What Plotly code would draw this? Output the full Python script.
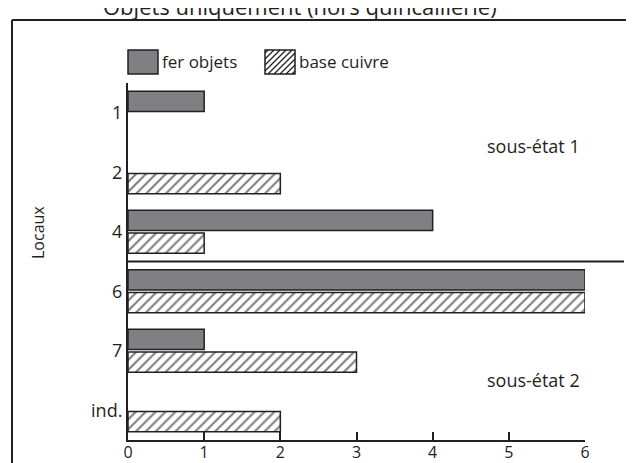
import plotly.graph_objects as go

categories = ["1", "2", "4", "6", "7", "ind."]
fer_objets = [1, None, 4, 6, 1, None]
base_cuivre = [None, 2, 1, 6, 3, 2]
x_ticks = [0, 1, 2, 3, 4, 5, 6]

# The page body adds an 8px offset; the figure is sized so that the
# plot area lands where it sits in the reference (screen coordinates).
OFF = 8
W, H = 634 - OFF, 463 - OFF
L, T = 128 - OFF, 83 - OFF
PW, PH = 457, 357
R, B = W - L - PW, H - T - PH

def px(x):  # screen x -> paper
    return (x - 128) / PW

def py(y):  # screen y -> paper
    return (440 - y) / PH

DARK = "#231f20"
GRAY = "#808083"
FONT = "Open Sans, Noto Sans, sans-serif"

fig = go.Figure()
fig.add_trace(go.Bar(
    y=categories, x=fer_objets, orientation="h", name="fer objets",
    marker=dict(color=GRAY, line=dict(color=DARK, width=1.5)),
    showlegend=False,
))
fig.add_trace(go.Bar(
    y=categories, x=base_cuivre, orientation="h", name="base cuivre",
    marker=dict(color="white", line=dict(color=DARK, width=1.5),
                pattern=dict(shape="/", fgcolor="#000000", bgcolor="white", size=7, solidity=0.3)),
    showlegend=False,
))

shapes = []
FRAME_TOP = 20
shapes.append(dict(type="line", xref="paper", yref="paper", x0=px(12), x1=px(12), y0=py(FRAME_TOP), y1=py(480),
                   line=dict(color=DARK, width=2)))
shapes.append(dict(type="line", xref="paper", yref="paper", x0=px(12), x1=px(633), y0=py(FRAME_TOP), y1=py(FRAME_TOP),
                   line=dict(color=DARK, width=2)))
shapes.append(dict(type="line", xref="paper", yref="paper", x0=px(632), x1=px(632), y0=py(FRAME_TOP), y1=py(480),
                   line=dict(color="#e6e6e6", width=1)))
# separator between sous-état 1 and sous-état 2
shapes.append(dict(type="line", xref="paper", yref="y", x0=0, x1=px(624), y0=2.5, y1=2.5,
                   line=dict(color=DARK, width=2)))

def box(x0, y0, x1, y1, fill):
    return dict(type="rect", xref="paper", yref="paper", x0=px(x0), x1=px(x1), y0=py(y1), y1=py(y0),
                fillcolor=fill, line=dict(color=DARK, width=1.5))

shapes.append(box(128, 50, 158, 74, GRAY))
shapes.append(box(265, 50, 295, 74, "white"))
bx0, by0, bx1, by1 = 265, 50, 295, 74
step = 6
c = bx0 + by0 + 3
while c < bx1 + by1:
    pts = []
    for x in (bx0, bx1):
        y = c - x
        if by0 <= y <= by1:
            pts.append((x, y))
    for y in (by0, by1):
        x = c - y
        if bx0 <= x <= bx1:
            pts.append((x, y))
    pts = sorted(set(pts))
    if len(pts) >= 2:
        (xa, ya), (xb, yb) = pts[0], pts[-1]
        shapes.append(dict(type="line", xref="paper", yref="paper", x0=px(xa), y0=py(ya), x1=px(xb), y1=py(yb),
                           line=dict(color=DARK, width=1.2)))
    c += step

annotations = [
    dict(text="Objets uniquement (hors quincaillerie)", xref="paper", yref="paper", x=px(300), y=py(6),
         xanchor="center", yanchor="middle", showarrow=False, font=dict(size=22, color=DARK, family=FONT)),
    dict(text="fer objets", xref="paper", yref="paper", x=px(160), y=py(61), xanchor="left", yanchor="middle",
         showarrow=False, font=dict(size=17, color=DARK, family=FONT)),
    dict(text="base cuivre", xref="paper", yref="paper", x=px(297), y=py(61), xanchor="left", yanchor="middle",
         showarrow=False, font=dict(size=17, color=DARK, family=FONT)),
    dict(text="sous-état 1", xref="paper", yref="paper", x=px(533), y=py(146), xanchor="center", yanchor="middle",
         showarrow=False, font=dict(size=18, color=DARK, family=FONT)),
    dict(text="sous-état 2", xref="paper", yref="paper", x=px(533), y=py(380), xanchor="center", yanchor="middle",
         showarrow=False, font=dict(size=18, color=DARK, family=FONT)),
    dict(text="Locaux", xref="paper", yref="paper", x=px(38), y=py(233), xanchor="center", yanchor="middle",
         textangle=-90, showarrow=False, font=dict(size=16, color=DARK, family=FONT)),
]

fig.update_layout(
    width=W, height=H,
    margin=dict(l=L, r=R, t=T, b=B, autoexpand=False),
    paper_bgcolor="white", plot_bgcolor="white",
    barmode="group", bargap=0.24, bargroupgap=0.1,
    font=dict(family=FONT, color=DARK),
    shapes=shapes, annotations=annotations,
    xaxis=dict(range=[0, 6], tickvals=x_ticks, ticktext=[str(v) for v in x_ticks],
               automargin=False, showgrid=False, zeroline=False, showline=True, linecolor=DARK, linewidth=2,
               ticks="inside", ticklen=8, tickwidth=1.5, tickcolor=DARK, ticklabelstandoff=-3,
               tickfont=dict(size=16, color=DARK, family=FONT)),
    yaxis=dict(type="category", categoryorder="array", categoryarray=categories,
               range=[5.5, -0.5], automargin=False, showgrid=False, zeroline=False,
               showline=True, linecolor=DARK, linewidth=2, ticks="",
               tickfont=dict(size=18, color=DARK, family=FONT)),
)

fig.write_html("out.html")
